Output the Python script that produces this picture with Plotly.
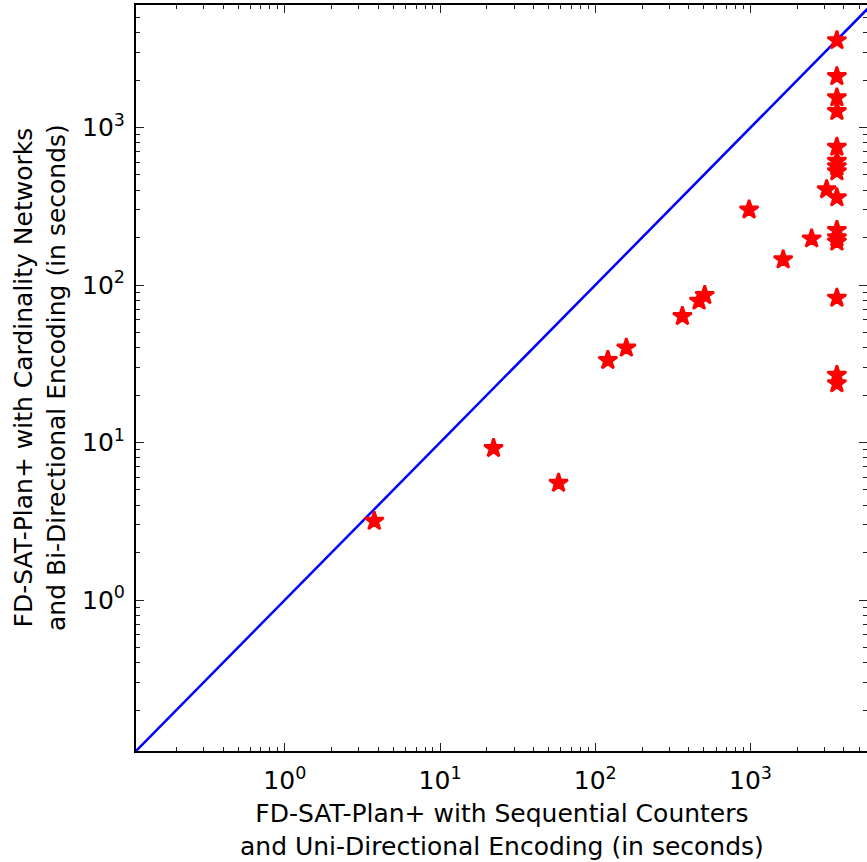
import math
import plotly.graph_objects as go

# Data (seconds)
seq_uni = [3.77, 22.1, 58, 120.5, 158.5, 364, 466, 507, 979, 1623, 2475, 3093,
           3600, 3600, 3600, 3600, 3600, 3600, 3600, 3600, 3600, 3600, 3600,
           3600, 3600, 3600, 3600]
card_bi = [3.17, 9.2, 5.53, 33.3, 39.9, 63.4, 79.3, 86.2, 300.6, 145, 197, 404,
           3575, 2113, 1549, 1268, 752, 613, 565, 525, 359, 223, 200, 188,
           82.8, 26.8, 23.7]
major_vals = [1, 10, 100, 1000]
major_text = ["10<sup>0</sup>", "10<sup>1</sup>", "10<sup>2</sup>", "10<sup>3</sup>"]
minor_vals = [m * 10 ** e for e in range(-1, 4) for m in range(2, 10)]

X_MIN, X_MAX = 0.11, 5627
Y_MIN, Y_MAX = 0.11, 6000
diag = [X_MIN, Y_MAX]

x_title = "FD-SAT-Plan+ with Sequential Counters<br>and Uni-Directional Encoding (in seconds)"
y_title = "FD-SAT-Plan+ with Cardinality Networks<br>and Bi-Directional Encoding (in seconds)"

FONT = "DejaVu Sans"

fig = go.Figure()
fig.add_trace(go.Scatter(x=diag, y=diag, mode="lines",
                         line=dict(color="#0000ff", width=2.5),
                         showlegend=False, hoverinfo="skip"))
fig.add_trace(go.Scatter(x=seq_uni, y=card_bi, mode="markers",
                         marker=dict(symbol="star", size=14, color="#ff0000",
                                     line=dict(color="#ff0000", width=2.5)),
                         showlegend=False))
fig.add_trace(go.Scatter(x=[], y=[], yaxis="y2", showlegend=False))

axis_common = dict(type="log", tickmode="array", tickvals=major_vals,
                   ticks="inside", ticklen=8, tickwidth=1, tickcolor="#222",
                   showgrid=False, zeroline=False,
                   tickfont=dict(family=FONT, size=25, color="black"),
                   minor=dict(tickmode="array", tickvals=minor_vals, ticks="inside",
                              ticklen=4, tickwidth=1, tickcolor="#222", showgrid=False))

fig.update_layout(
    width=867, height=862,
    margin=dict(l=136, r=0, t=5, b=111),
    paper_bgcolor="white", plot_bgcolor="white",
    xaxis=dict(axis_common, ticktext=major_text,
               range=[math.log10(X_MIN), math.log10(X_MAX)],
               showline=True, linecolor="black", linewidth=2, mirror="ticks",
               ticklabelstandoff=6),
    yaxis=dict(axis_common, ticktext=major_text,
               range=[math.log10(Y_MIN), math.log10(Y_MAX)],
               showline=True, linecolor="black", linewidth=2, mirror=False,
               ticklabelstandoff=4),
    yaxis2=dict(axis_common, ticktext=major_text, overlaying="y", side="right",
                showticklabels=False,
                range=[math.log10(Y_MIN), math.log10(Y_MAX)], showline=False),
    annotations=[
        dict(text=x_title, xref="paper", yref="paper", x=0.5, y=0, yanchor="top",
             yshift=-46, showarrow=False, align="center",
             font=dict(family=FONT, size=25, color="black")),
        dict(text=y_title, xref="paper", yref="paper", x=0, y=0.5, xanchor="right",
             xshift=-63, textangle=-90, showarrow=False, align="center",
             font=dict(family=FONT, size=25, color="black")),
    ],
)

fig.write_html("out.html", config={"displayModeBar": False},
               post_script="document.body.style.margin='0';document.body.style.overflow='hidden';")
